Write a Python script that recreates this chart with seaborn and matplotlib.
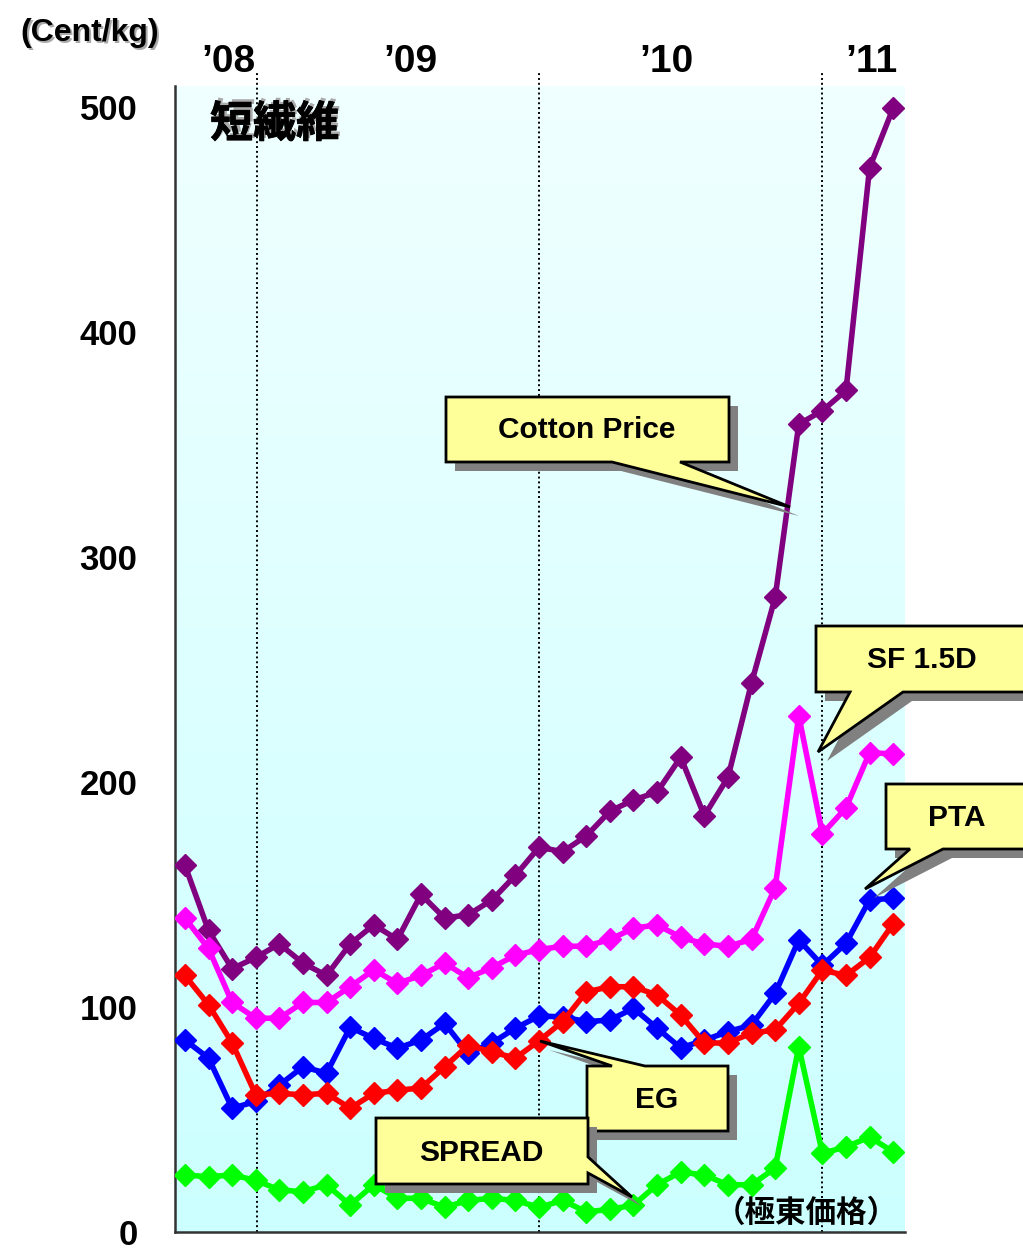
import numpy as np
import pandas as pd
import matplotlib
matplotlib.use("Agg")
import matplotlib.pyplot as plt
import matplotlib.patheffects as pe
from matplotlib import font_manager
from matplotlib.patches import Polygon
from matplotlib.colors import LinearSegmentedColormap
import seaborn as sns

# ---------------- data ----------------
months = list(range(31))
cotton = [163, 134, 117, 122, 128, 119.5, 114, 128, 136.5, 130, 150, 139.5, 141, 147.5, 158.5,
          171, 169, 176, 187, 192, 195.5, 211, 185, 202, 244, 282, 359, 365, 374, 473, 499.5]
sf15d = [139.5, 126, 102, 95, 95, 102, 102, 109, 116.5, 110.5, 114, 119.5, 113, 117.5, 123,
         125.5, 127, 127, 130, 135, 136.5, 131, 128, 127, 130, 153, 229.5, 177, 188.5, 213, 212.5]
pta = [85.3, 77.3, 55, 58, 65.3, 73.4, 70.6, 91, 86, 81.7, 85.3, 92.7, 79.4, 84, 90.6,
       96, 95.6, 93.5, 94.2, 99.4, 90.6, 81.8, 85.3, 89, 92, 106, 129.8, 118.5, 128.3, 147.6, 148.3]
eg = [114, 101, 84, 61, 61.6, 61, 61.6, 55, 61.6, 63, 64, 73.4, 83, 80, 77.3,
      85, 93.5, 106.7, 109, 109, 105.3, 96.4, 84, 84, 88.4, 89.8, 101.6, 116.4, 114, 122, 137]
spread = [25.3, 24.6, 25.3, 23, 18.7, 17.9, 21, 12, 21, 15, 15, 11, 14, 15, 14,
          11, 14, 9, 10, 12, 21, 26.7, 25.3, 21, 21, 28.4, 82.4, 35, 37.8, 42.2, 35.6]

series_names = ["Cotton Price", "SF 1.5D", "PTA", "EG", "SPREAD"]
series_colors = ["#800080", "#FF00FF", "#0000FF", "#FF0000", "#00FF00"]
year_labels = ["\u201908", "\u201909", "\u201910", "\u201911"]
year_label_pos = [1.86, 9.53, 20.4, 29.1]
year_boundaries = [3.05, 15, 27]
y_ticks = [0, 100, 200, 300, 400, 500]
unit_label = "(Cent/kg)"
title_label = "短繊維"
note_label = "（極東価格）"

# ---------------- fonts ----------------
def has_font(name):
    try:
        font_manager.findfont(font_manager.FontProperties(family=name), fallback_to_default=False)
        return True
    except Exception:
        return False

NARROW = has_font("Liberation Sans Narrow")
LAT = "Liberation Sans Narrow" if NARROW else "Liberation Sans"
CJK = "Noto Sans CJK JP"

sns.set_style("white")
plt.rcParams["font.family"] = [LAT, "DejaVu Sans"]
plt.rcParams["text.color"] = "black"
plt.rcParams["ytick.color"] = "black"
plt.rcParams["ytick.labelcolor"] = "black"

W, H = 1023, 1255
fig = plt.figure(figsize=(W / 100, H / 100), dpi=100)
ax = fig.add_axes([175 / W, 1 - 1232 / H, (905 - 175) / W, (1232 - 86) / H])

XMIN, XMAX = -0.42, 30.5
YMIN, YMAX = 0, 509.3

# gradient background
cmap = LinearSegmentedColormap.from_list("bg", ["#CCFFFF", "#F0FFFF"])
grad = np.linspace(0, 1, 256).reshape(-1, 1)
ax.imshow(grad, cmap=cmap, origin="lower", aspect="auto",
          extent=[XMIN, XMAX, YMIN, YMAX], zorder=0)

# year boundaries (dotted)
for xb in year_boundaries:
    ax.axvline(xb, ymin=0, ymax=1.011, color="black", linestyle=(0, (1, 1.5)),
               linewidth=1.4, clip_on=False, zorder=1)

# series
df = pd.DataFrame({"month": months * 5,
                   "value": cotton + sf15d + pta + eg + spread,
                   "series": sum([[n] * len(months) for n in series_names], [])})
order = ["SPREAD", "Cotton Price", "SF 1.5D", "PTA", "EG"]
for name in order:
    sub = df[df["series"] == name]
    c = series_colors[series_names.index(name)]
    sns.lineplot(data=sub, x="month", y="value", ax=ax, color=c, linewidth=4,
                 marker="D", markersize=11.5, markeredgecolor=c, markeredgewidth=1,
                 legend=False, zorder=3)

ax.set_xlim(XMIN, XMAX)
ax.set_ylim(YMIN, YMAX)
ax.set_xticks([])
ax.set_yticks(y_ticks)
ax.set_yticklabels([str(t) for t in y_ticks], fontsize=29 if NARROW else 25,
                   fontweight="bold", color="black")
ax.tick_params(axis="y", length=0, pad=27, labelcolor="black")
ax.set_xlabel("")
ax.set_ylabel("")
for s in ["top", "right"]:
    ax.spines[s].set_visible(False)
for s in ["left", "bottom"]:
    ax.spines[s].set_color("#333333")
    ax.spines[s].set_linewidth(1.8)

# year labels above plot
for lab, xp in zip(year_labels, year_label_pos):
    ax.text(xp, 1.0 + 24 / (1232 - 86), lab, transform=ax.get_xaxis_transform(),
            ha="center", va="center", fontsize=29 if NARROW else 28, fontweight="bold",
            color="black")

# unit label with soft shadow
ufs = 26 if NARROW else 23
fig.text(92 / W, 1 - 35 / H, unit_label, ha="center", va="center", fontsize=ufs,
         fontweight="bold", color="#AAAAAA")
fig.text(90 / W, 1 - 33 / H, unit_label, ha="center", va="center", fontsize=ufs,
         fontweight="bold", color="black")

# title with shadow
fig.text(212.5 / W, 1 - 121.5 / H, title_label, ha="left", va="center", fontsize=31,
         fontweight="bold", family=[CJK, "DejaVu Sans"], color="#AAAAAA")
t = fig.text(210 / W, 1 - 124 / H, title_label, ha="left", va="center", fontsize=31,
             fontweight="bold", family=[CJK, "DejaVu Sans"], color="black")
t.set_path_effects([pe.withStroke(linewidth=0.6, foreground="black")])

fig.text(806 / W, 1 - 1213 / H, note_label, ha="center", va="center", fontsize=22,
         fontweight="bold", family=[CJK, "DejaVu Sans"], color="black")

# callouts (pixel coordinates of the reference picture)
def px(pts):
    return [(x / W, 1 - y / H) for x, y in pts]

CFS = 25 if NARROW else 21.5

def callout(pts, text, cx, cy, z=10):
    sh = [(x + 9, y + 9) for x, y in pts]
    fig.patches.append(Polygon(px(sh), closed=True, transform=fig.transFigure,
                               facecolor="#808080", edgecolor="none", zorder=z))
    fig.patches.append(Polygon(px(pts), closed=True, transform=fig.transFigure,
                               facecolor="#FFFF99", edgecolor="black", linewidth=2,
                               joinstyle="miter", zorder=z + 0.1))
    fig.text(cx / W, 1 - cy / H, text, ha="center", va="center", fontsize=CFS,
             fontweight="bold", color="black", zorder=z + 0.2)

callout([(446, 397), (729, 397), (729, 462), (680, 462), (790, 507), (612, 462), (446, 462)],
        "Cotton Price", 587, 430, z=10)
callout([(816, 626), (1040, 626), (1040, 692), (903, 692), (818, 752), (850, 692), (816, 692)],
        "SF 1.5D", 922, 660, z=11)
callout([(886, 784), (1040, 784), (1040, 849), (943, 849), (865, 889), (910, 849), (886, 849)],
        "PTA", 957, 818, z=12)
callout([(587, 1066), (612, 1066), (540, 1041), (645, 1066), (728, 1066), (728, 1131), (587, 1131)],
        "EG", 657, 1100, z=13)
callout([(376, 1118), (588, 1118), (588, 1157), (632, 1197), (588, 1173), (588, 1184), (376, 1184)],
        "SPREAD", 481, 1153, z=14)

fig.savefig("out.png", dpi=100)
